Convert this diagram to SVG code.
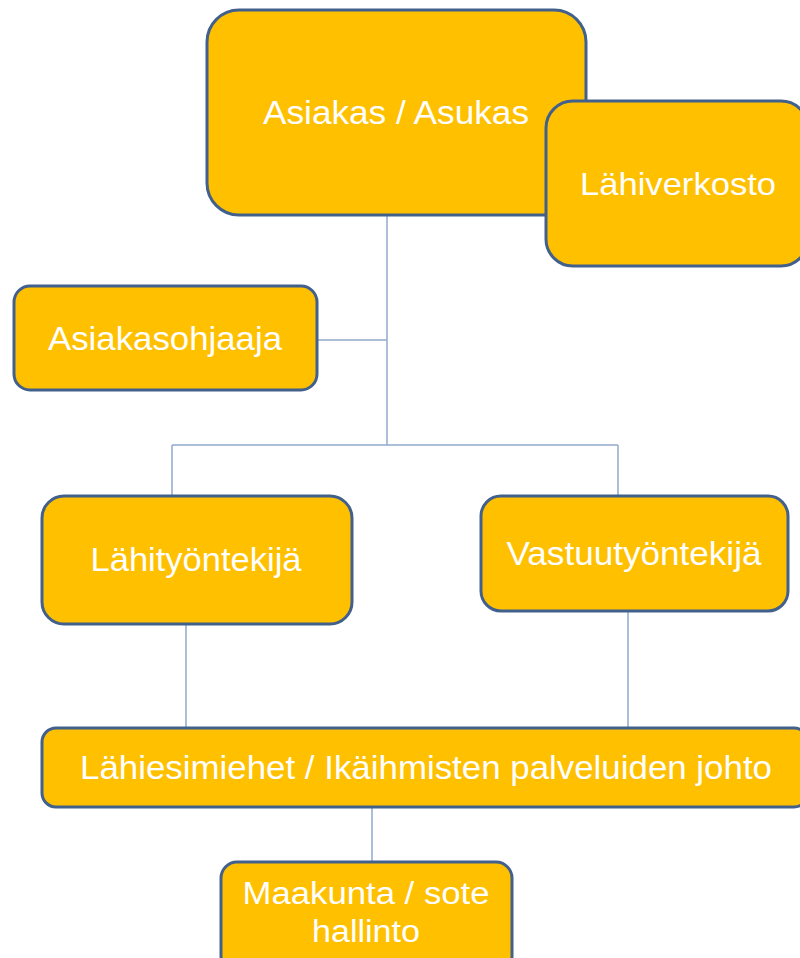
<svg xmlns="http://www.w3.org/2000/svg" width="800" height="958" viewBox="0 0 800 958">
<style>
.box{fill:#FFC000;stroke:#41608C;stroke-width:3}
.t{fill:#fff;font-family:"Liberation Sans",Arial,sans-serif;text-anchor:middle}
.c{fill:none;stroke:#92AACB;stroke-width:1.5}
</style>
<rect width="800" height="958" fill="#fff"/>
<g id="connectors">
<path class="c" d="M387 215V445M317 340H387M172 445H618M172 445V496M618 445V496M186 624V728M628 611V735M372 807V862"/>
</g>
<g id="asiakas">
<rect class="box" x="207" y="10" width="379" height="205" rx="32"/>
<text class="t" x="396" y="124" font-size="33" textLength="266" lengthAdjust="spacingAndGlyphs">Asiakas / Asukas</text>
</g>
<g id="lahiverkosto">
<rect class="box" x="546" y="101" width="262" height="165" rx="27"/>
<text class="t" x="678" y="195" font-size="32" textLength="196" lengthAdjust="spacingAndGlyphs">Lähiverkosto</text>
</g>
<g id="asiakasohjaaja">
<rect class="box" x="14" y="286" width="303" height="104" rx="16"/>
<text class="t" x="165" y="350" font-size="33" textLength="234" lengthAdjust="spacingAndGlyphs">Asiakasohjaaja</text>
</g>
<g id="lahityontekija">
<rect class="box" x="42" y="496" width="310" height="128" rx="22"/>
<text class="t" x="196" y="571" font-size="33" textLength="211" lengthAdjust="spacingAndGlyphs">Lähityöntekijä</text>
</g>
<g id="vastuutyontekija">
<rect class="box" x="481" y="496" width="307" height="115" rx="20"/>
<text class="t" x="634" y="565" font-size="33" textLength="255" lengthAdjust="spacingAndGlyphs">Vastuutyöntekijä</text>
</g>
<g id="lahiesimiehet">
<rect class="box" x="42" y="728" width="766" height="79" rx="14"/>
<text class="t" x="426" y="779" font-size="34" textLength="692" lengthAdjust="spacingAndGlyphs">Lähiesimiehet / Ikäihmisten palveluiden johto</text>
</g>
<g id="maakunta">
<rect class="box" x="221" y="862" width="291" height="110" rx="16"/>
<text class="t" x="366" y="904" font-size="31" textLength="247" lengthAdjust="spacingAndGlyphs">Maakunta / sote</text>
<text class="t" x="366" y="942" font-size="31" textLength="108" lengthAdjust="spacingAndGlyphs">hallinto</text>
</g>
</svg>
